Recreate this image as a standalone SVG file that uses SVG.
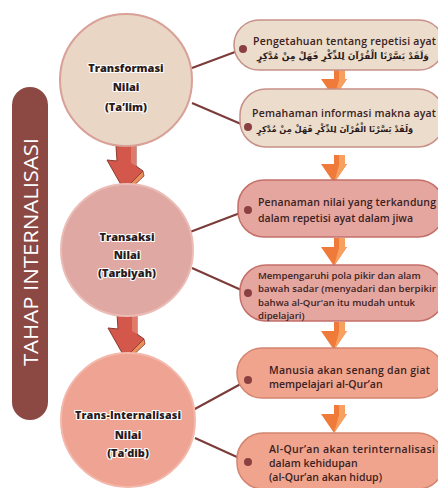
<svg xmlns="http://www.w3.org/2000/svg" width="438" height="488" viewBox="0 0 438 488">
<defs>
<style>
.bt{font-family:"Open Sans","Noto Sans",sans-serif;font-weight:600;font-size:10.5px;fill:#3a2222}
.bs{font-family:"Open Sans","Noto Sans",sans-serif;font-weight:600;font-size:9.6px;fill:#3a2222}
.ar{font-family:"DejaVu Sans","Noto Sans",sans-serif;font-weight:bold;fill:#2a1a1a;text-anchor:middle}
.ct{font-family:"Open Sans","Noto Sans",sans-serif;font-weight:800;font-size:11px;fill:#2a1a1a;stroke:#ffffff;stroke-width:2.2px;paint-order:stroke;stroke-linejoin:round;text-anchor:middle}
.conn{stroke:#7b3b38;stroke-width:2;fill:none}
.dot{fill:#8a4040}
.b1{fill:#ebdccc;stroke:#c79088;stroke-width:1.5}
.b2{fill:#e6a6a0;stroke:#c46f68;stroke-width:1.5}
.b3{fill:#f0a48e;stroke:#d4846f;stroke-width:1.5}
</style>
<g id="ra">
<polygon points="116,146 136,146 136,166 143,171 124,190 107,160 117,161" fill="#d4574b" stroke="#8b3a30" stroke-width="1"/>
<polygon points="131,146 136,146 136,166 131,163" fill="#e07a6a"/>
<polygon points="143,171 144,176 125,194 124,190" fill="#e8905a" stroke="#8b3a30" stroke-width="0.8"/>
</g>
<g id="oa">
<polygon points="0,0 11,0 11,9 13,9 0,28 -13,9 0,9" fill="#f07a3a"/>
<polygon points="5,0 11,0 11,9 13,9 0,28 5,10" fill="#f7a060"/>
</g>
</defs>
<rect width="438" height="488" fill="#ffffff"/>
<g id="bar">
<rect x="12" y="87" width="36" height="333" rx="18" fill="#8c4843"/>
<text transform="translate(38,252) rotate(-90)" text-anchor="middle" font-family="Open Sans,Noto Sans,sans-serif" font-weight="500" font-size="20" fill="#ffffff" textLength="228" lengthAdjust="spacingAndGlyphs">TAHAP INTERNALISASI</text>
</g>
<g id="connectors">
<line class="conn" x1="192" y1="68" x2="243" y2="49"/>
<line class="conn" x1="192" y1="103" x2="248" y2="127"/>
<line class="conn" x1="190" y1="232" x2="248" y2="210"/>
<line class="conn" x1="192" y1="268" x2="248" y2="293"/>
<line class="conn" x1="193" y1="410" x2="248" y2="380"/>
<line class="conn" x1="195" y1="438" x2="248" y2="462"/>
<use href="#ra"/>
<use href="#ra" transform="translate(1,168)"/>
<use href="#oa" transform="translate(334,70)"/>
<use href="#oa" transform="translate(334,155)"/>
<use href="#oa" transform="translate(334,238)"/>
<use href="#oa" transform="translate(334,322)"/>
<use href="#oa" transform="translate(334,405)"/>
</g>
<g id="circle1">
<circle cx="126" cy="80" r="66" fill="#e9d6c5" stroke="#d9a098" stroke-width="2"/>
<text class="ct" x="126" y="72">Transformasi</text>
<text class="ct" x="126" y="91">Nilai</text>
<text class="ct" x="126" y="111">(Ta’lim)</text>
</g>
<g id="circle2">
<circle cx="127" cy="250" r="66" fill="#dfa8a3" stroke="#ebbcb6" stroke-width="2"/>
<text class="ct" x="127" y="241">Transaksi</text>
<text class="ct" x="127" y="259">Nilai</text>
<text class="ct" x="127" y="277">(Tarbiyah)</text>
</g>
<g id="circle3">
<circle cx="128" cy="420" r="67" fill="#efa393" stroke="#f4b8ab" stroke-width="2"/>
<text class="ct" x="128" y="419" textLength="106">Trans-Internalisasi</text>
<text class="ct" x="128" y="439">Nilai</text>
<text class="ct" x="128" y="457">(Ta’dib)</text>
</g>
<g id="box1">
<rect class="b1" x="234" y="20" width="210" height="50" rx="25"/>
<text class="bt" x="253" y="45" textLength="183">Pengetahuan tentang repetisi ayat</text>
<text class="ar" x="343" y="59" font-size="9">وَلَقَدْ يَسَّرْنَا الْقُرْآنَ لِلذِّكْرِ فَهَلْ مِنْ مُدَّكِرٍ</text>
</g>
<g id="box2">
<rect class="b1" x="240" y="89" width="204" height="58" rx="26"/>
<text class="bt" x="252" y="117" textLength="184">Pemahaman informasi makna ayat</text>
<text class="ar" x="335" y="132" font-size="8.2">وَلَقَدْ يَسَّرْنَا الْقُرْآنَ لِلذِّكْرِ فَهَلْ مِنْ مُدَّكِرٍ</text>
</g>
<g id="box3">
<rect class="b2" x="238" y="180" width="206" height="57" rx="26"/>
<text class="bt" x="258" y="206" textLength="178">Penanaman nilai yang terkandung</text>
<text class="bt" x="258" y="222">dalam repetisi ayat dalam jiwa</text>
</g>
<g id="box4">
<rect class="b2" x="240" y="265" width="204" height="56" rx="26"/>
<text class="bs" x="258" y="279">Mempengaruhi pola pikir dan alam</text>
<text class="bs" x="258" y="292" textLength="178">bawah sadar (menyadari dan berpikir</text>
<text class="bs" x="258" y="306">bahwa al-Qur'an itu mudah untuk</text>
<text class="bs" x="258" y="319">dipelajari)</text>
</g>
<g id="box5">
<rect class="b3" x="237" y="348" width="207" height="50" rx="25"/>
<text class="bt" x="269" y="374" textLength="161">Manusia akan senang dan giat</text>
<text class="bt" x="269" y="388">mempelajari al-Qur’an</text>
</g>
<g id="box6">
<rect class="b3" x="237" y="433" width="207" height="56" rx="26"/>
<text class="bt" x="269" y="453" textLength="166">Al-Qur’an akan terinternalisasi</text>
<text class="bt" x="269" y="467">dalam kehidupan</text>
<text class="bt" x="269" y="481">(al-Qur’an akan hidup)</text>
</g>
<g id="dots">
<circle class="dot" cx="243" cy="49" r="4"/>
<circle class="dot" cx="248" cy="127" r="4"/>
<circle class="dot" cx="248" cy="210" r="4"/>
<circle class="dot" cx="248" cy="293" r="4"/>
<circle class="dot" cx="248" cy="380" r="4"/>
<circle class="dot" cx="248" cy="462" r="4"/>
</g>
</svg>
